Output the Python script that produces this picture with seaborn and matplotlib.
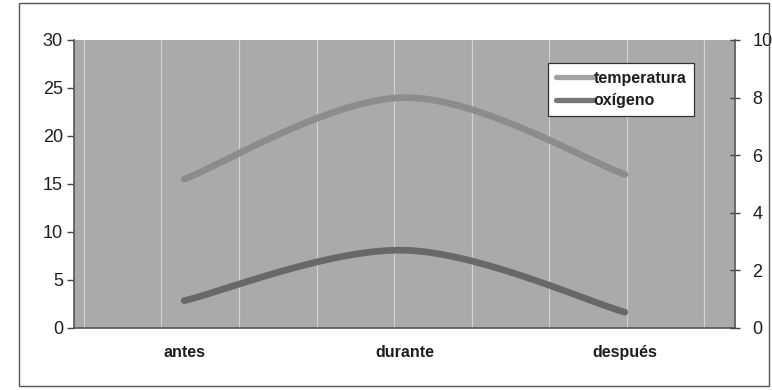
import numpy as np
import pandas as pd
import matplotlib
matplotlib.use("Agg")
import matplotlib.pyplot as plt
from matplotlib.patches import Rectangle
import seaborn as sns

# Data
momentos = ["antes", "durante", "después"]
temperatura = [15.5, 24.0, 16.0]   # left axis (0-30)
oxigeno = [0.95, 2.7, 0.55]        # right axis (0-10)
left_ticks = [0, 5, 10, 15, 20, 25, 30]
right_ticks = [0, 2, 4, 6, 8, 10]

FONT = "Liberation Sans"
BG = "#aaaaaa"
C_TEMP = "#8c8c8c"
C_OXI = "#686868"
TXT = "#1e1e1e"


def smooth(xs, ys, n=60):
    """Bezier smoothing through the points (spreadsheet-style smoothed line)."""
    p = np.column_stack([xs, ys]).astype(float)
    ext = np.vstack([p[0], p, p[-1]])
    out = []
    t = np.linspace(0, 1, n)[:, None]
    for i in range(len(p) - 1):
        p0, p3 = ext[i + 1], ext[i + 2]
        c1 = p0 + (ext[i + 2] - ext[i]) / 6.0
        c2 = p3 - (ext[i + 3] - ext[i + 1]) / 6.0
        seg = ((1 - t) ** 3) * p0 + 3 * ((1 - t) ** 2) * t * c1 + 3 * (1 - t) * t ** 2 * c2 + t ** 3 * p3
        out.append(seg if i == 0 else seg[1:])
    return np.vstack(out)


sns.set_theme(style="white")
plt.rcParams["font.family"] = [FONT, "DejaVu Sans"]

fig = plt.figure(figsize=(7.72, 3.90), dpi=100)
ax = fig.add_axes([74 / 772, 1 - 328 / 390, (735 - 74) / 772, (328 - 40) / 390])
ax2 = ax.twinx()

# outer chart frame
fig.patches.append(Rectangle((19 / 772, 1 - 386 / 390), (769 - 19) / 772, (386 - 3) / 390,
                             transform=fig.transFigure, fill=False, edgecolor="#555555",
                             linewidth=1.0, zorder=0))

ax.set_facecolor(BG)
ax.set_xlim(-0.5, 2.5)
ax.set_ylim(0, 30)
ax2.set_ylim(0, 10)

# faint vertical stripes on the plot area
for gx in np.arange(-0.455, 2.5, 0.352):
    ax.axvline(gx, color="#d2d2d2", linewidth=0.8, zorder=0.5)

xs = np.arange(len(momentos))
ct = smooth(xs, temperatura)
co = smooth(xs, oxigeno)
df_t = pd.DataFrame({"x": ct[:, 0], "y": ct[:, 1]})
df_o = pd.DataFrame({"x": co[:, 0], "y": co[:, 1]})

sns.lineplot(data=df_t, x="x", y="y", ax=ax, color=C_TEMP, linewidth=4.8,
             solid_capstyle="round", sort=False, estimator=None, legend=False)
sns.lineplot(data=df_o, x="x", y="y", ax=ax2, color=C_OXI, linewidth=4.8,
             solid_capstyle="round", sort=False, estimator=None, legend=False)

ax.set_xticks(xs)
ax.set_xticklabels(momentos, fontsize=11.5, fontweight="bold", color=TXT)
ax.set_yticks(left_ticks)
ax.set_yticklabels([str(v) for v in left_ticks], fontsize=13, color=TXT)
ax2.set_yticks(right_ticks)
ax2.set_yticklabels([str(v) for v in right_ticks], fontsize=13, color=TXT)
ax.set_xlabel("")
ax.set_ylabel("")
ax2.set_xlabel("")
ax2.set_ylabel("")

ax.tick_params(axis="x", length=0, pad=12)
ax.tick_params(axis="y", direction="out", length=5, width=1, color="#444444", pad=3, left=True)
ax2.tick_params(axis="y", direction="inout", length=7, width=1, color="#444444", pad=9, right=True)

for a in (ax, ax2):
    for s in a.spines.values():
        s.set_visible(False)
ax.spines["left"].set_visible(True)
ax.spines["bottom"].set_visible(True)
ax2.spines["right"].set_visible(True)
for s in (ax.spines["left"], ax.spines["bottom"], ax2.spines["right"]):
    s.set_color("#555555")
    s.set_linewidth(1.2)

# legend
handles = [plt.Line2D([], [], color="#a2a2a2", linewidth=3.8),
           plt.Line2D([], [], color="#777777", linewidth=3.8)]
leg = ax2.legend(handles, ["temperatura", "oxígeno"], loc="upper left",
                 bbox_to_anchor=((548 - 74) / 661, (328 - 63) / 288),
                 frameon=True, fancybox=False, framealpha=1.0,
                 prop={"size": 11.5, "weight": "bold"}, handlelength=2.3,
                 handletextpad=0.05, borderpad=0.5, labelspacing=0.45, borderaxespad=0)
leg.get_frame().set_edgecolor("#333333")
leg.get_frame().set_linewidth(0.9)
leg.get_frame().set_facecolor("white")
for txt in leg.get_texts():
    txt.set_color(TXT)

fig.savefig("out.png", dpi=100)
